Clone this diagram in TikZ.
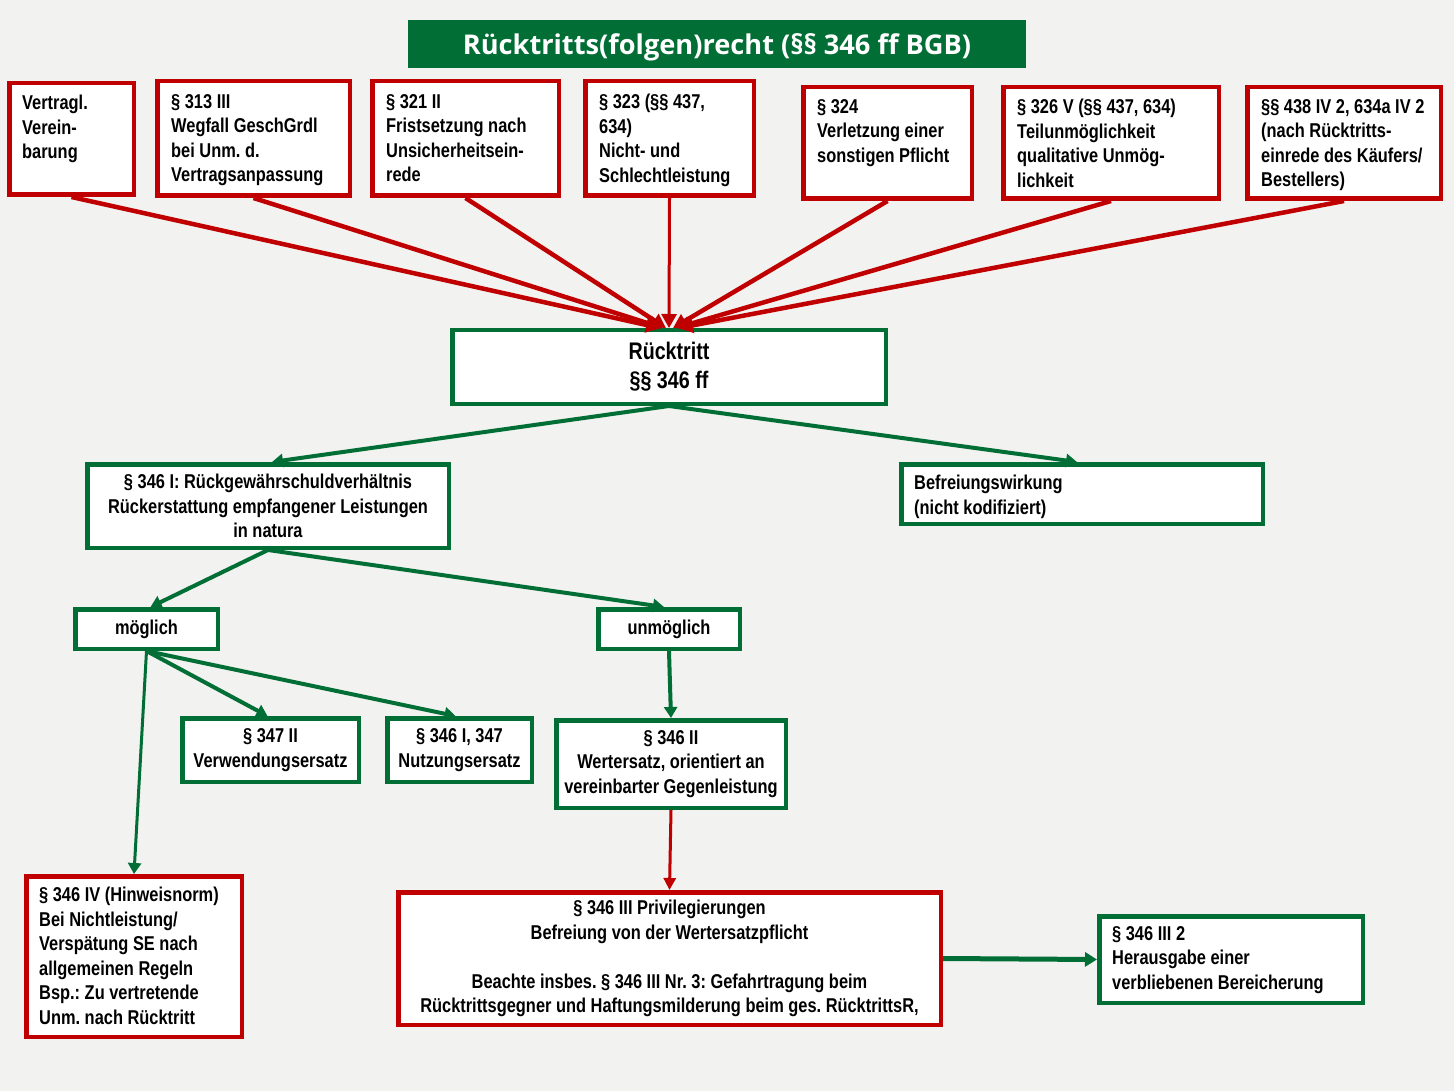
\documentclass[tikz,border=0pt]{standalone}
\usepackage{fontspec}
\usetikzlibrary{arrows.meta}
\newfontfamily\narrowfont[FakeStretch=0.82]{Liberation Sans}
\newfontfamily\titlefont{Open Sans}
\definecolor{myred}{HTML}{C00000}
\definecolor{mygreen}{HTML}{006E35}
\definecolor{bgcol}{HTML}{F2F2F0}
\frenchspacing

% box from outer corners (x1,y1)-(x2,y2), border 4.5pt drawn inside
\newcommand\mkbox[7]{%
  \node[#2, minimum width={#5pt-#3pt-4.5pt}, minimum height={#6pt-#4pt-4.5pt}]
    (#1) at ({(#3+#5)/2},{(#4+#6)/2}) {#7};}

\tikzset{
  basebox/.style={draw, fill=white, line width=4.5pt, inner sep=0pt,
    font=\narrowfont\bfseries\fontsize{20}{24.5}\selectfont, align=center},
  redbox/.style={basebox, draw=myred},
  grnbox/.style={basebox, draw=mygreen},
  txt/.style={inner sep=0pt, align=left, anchor=north west,
    font=\narrowfont\bfseries\fontsize{20}{24.5}\selectfont},
  redarrow/.style={draw=myred, line width=4.5pt,
    -{Triangle[length=14pt,width=15pt]}},
  grnarrow/.style={draw=mygreen, line width=4pt,
    -{Triangle[length=11pt,width=13pt]}},
  titlebox/.style={fill=mygreen, text=white, inner sep=0pt,
    text height=24pt, text depth=2pt,
    font=\titlefont\bfseries\fontsize{27.2}{30}\selectfont}
}

\begin{document}
\begin{tikzpicture}[x=1pt, y=-1pt]
\useasboundingbox (0,0) rectangle (1454,1091);
\fill[bgcol] (0,0) rectangle (1454,1091);

% heading
\node[titlebox, minimum width=618pt, minimum height=48pt] (title) at (717,44)
  {Rücktritts(folgen)recht (§§ 346 ff BGB)};

% grounds for withdrawal
\mkbox{b1}{redbox}{7}{81}{136}{197}{}
\mkbox{b2}{redbox}{155}{79}{352}{198}{}
\mkbox{b3}{redbox}{370}{79}{561}{198}{}
\mkbox{b4}{redbox}{583}{79}{756}{198}{}
\mkbox{b5}{redbox}{801}{85}{974}{201}{}
\mkbox{b6}{redbox}{1001}{85}{1221}{201}{}
\mkbox{b7}{redbox}{1245}{85}{1443}{201}{}
\node[txt] (b1t) at (22,95) {Vertragl.\\Verein-\\barung};
\node[txt] (b2t) at (171,94) {§ 313 III\\Wegfall GeschGrdl\\bei Unm. d.\\Vertragsanpassung};
\node[txt] (b3t) at (386,94) {§ 321 II\\Fristsetzung nach\\Unsicherheitsein-\\rede};
\node[txt] (b4t) at (599,94) {§ 323 (§§ 437,\\634)\\Nicht- und\\Schlechtleistung};
\node[txt] (b5t) at (817,99) {§ 324\\Verletzung einer\\sonstigen Pflicht};
\node[txt] (b6t) at (1017,99) {§ 326 V (§§ 437, 634)\\Teilunmöglichkeit\\qualitative Unmög-\\lichkeit};
\node[txt] (b7t) at (1261,99) {§§ 438 IV 2, 634a IV 2\\(nach Rücktritts-\\einrede des Käufers/\\Bestellers)};

% central node
\mkbox{rt}{grnbox, font=\narrowfont\bfseries\fontsize{24}{29}\selectfont}{450}{328}{888}{406}{Rücktritt\\§§ 346 ff}

% consequences
\mkbox{rg}{grnbox}{85}{462}{451}{550}{§ 346 I: Rückgewährschuldverhältnis\\Rückerstattung empfangener Leistungen\\in natura}
\mkbox{bw}{grnbox}{899}{462}{1265}{526}{}
\node[txt] (bwt) at (914,475) {Befreiungswirkung\\(nicht kodifiziert)};

\mkbox{mg}{grnbox}{73}{607}{220}{651}{möglich}
\mkbox{um}{grnbox}{596}{607}{742}{651}{unmöglich}

\mkbox{ve}{grnbox}{180}{716}{361}{784}{§ 347 II\\Verwendungsersatz}
\mkbox{nu}{grnbox}{385}{716}{534}{784}{§ 346 I, 347\\Nutzungsersatz}
\mkbox{ws}{grnbox}{554}{718}{788}{810}{§ 346 II\\Wertersatz, orientiert an\\vereinbarter Gegenleistung}

\mkbox{hn}{redbox}{24}{874}{244}{1039}{}
\node[txt] (hnt) at (39,887) {§ 346 IV (Hinweisnorm)\\Bei Nichtleistung/\\Verspätung SE nach\\allgemeinen Regeln\\Bsp.: Zu vertretende\\Unm. nach Rücktritt};

\mkbox{pv}{redbox}{396}{890}{943}{1027}{§ 346 III Privilegierungen\\Befreiung von der Wertersatzpflicht\\[24.5pt]Beachte insbes. § 346 III Nr. 3: Gefahrtragung beim\\Rücktrittsgegner und Haftungsmilderung beim ges. RücktrittsR,}

\mkbox{hb}{grnbox}{1097}{914}{1365}{1005}{}
\node[txt] (hbt) at (1112,926) {§ 346 III 2\\Herausgabe einer\\verbliebenen Bereicherung};

% connectors into the central node
\draw[redarrow] (b1.south) -- ([xshift=-9pt]rt.north);
\draw[redarrow] (b2.south) -- ([xshift=-6pt]rt.north);
\draw[redarrow] (b3.south) -- ([xshift=-3pt]rt.north);
\draw[redarrow, line width=3pt] (b4.south) -- (rt.north);
\draw[redarrow] (b5.south) -- ([xshift=4pt]rt.north);
\draw[redarrow] (b6.south) -- ([xshift=7pt]rt.north);
\draw[redarrow] (b7.south) -- ([xshift=10pt]rt.north);

% connectors below
\draw[grnarrow] (rt.south) -- ([xshift=4pt]rg.north);
\draw[grnarrow] (rt.south) -- ([xshift=-5pt]bw.north);
\draw[grnarrow] (rg.south) -- ([xshift=4pt]mg.north);
\draw[grnarrow] (rg.south) -- ([xshift=-5pt]um.north);
\draw[grnarrow] (mg.south) -- ([xshift=-3pt]ve.north);
\draw[grnarrow] (mg.south) -- ([xshift=-4pt]nu.north);
\draw[grnarrow, line width=3pt] (mg.south) -- (hn.north);
\draw[grnarrow] (um.south) -- (ws.north);
\draw[redarrow, line width=3pt, -{Triangle[length=12pt,width=12pt]}] (ws.south) -- (pv.north);
\draw[grnarrow, line width=5pt, -{Triangle[length=12pt,width=14pt]}] (pv.east) -- (hb.west);
\end{tikzpicture}
\end{document}
